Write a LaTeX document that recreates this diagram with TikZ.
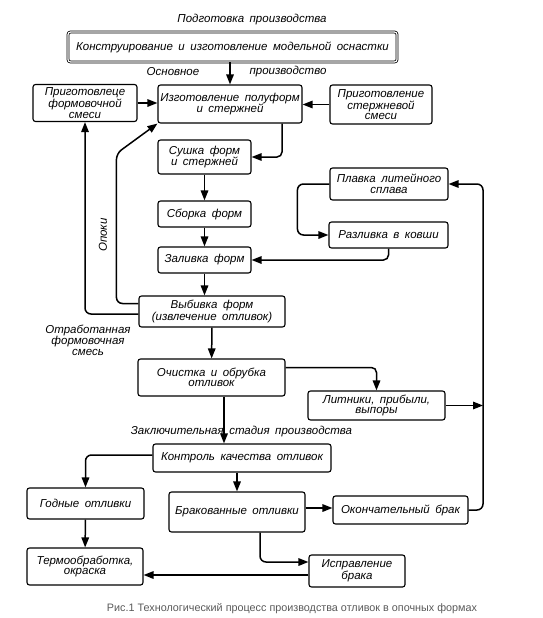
\documentclass[tikz,border=0pt]{standalone}
\usepackage{fontspec}
\setmainfont{Liberation Sans}
\newfontfamily\gost{Liberation Sans}
\newcommand\gostfont{\gost\itshape\fontsize{11.5}{10.5}\selectfont\spaceskip=5.5pt plus 1pt\relax}
\usetikzlibrary{arrows.meta}

\begin{document}
\begin{tikzpicture}[
    x=1pt, y=-1pt,
    box/.style={draw, line width=1.1pt, rounded corners=2.5pt, inner sep=1pt, align=center, font=\gostfont},
    arr/.style={draw, line width=1.5pt, -{Triangle[length=10pt,width=7.5pt]}},
    lbl/.style={font=\gostfont, align=center}
]
\useasboundingbox (0,0) rectangle (543,618);

% stage labels
\node[lbl] (prep) at (252,20) {Подготовка производства};
\node[lbl] (mainA) at (173,72) {Основное};
\node[lbl] (mainB) at (288,72) {производство};
\node[lbl] (final) at (241.5,432) {Заключительная стадия производства};

% boxes
\node[box, double, double distance=1.2pt, line width=0.8pt, minimum width=329pt, minimum height=30pt] (top) at (232.5,47) {Конструирование и изготовление модельной оснастки};
\node[box, minimum width=104pt, minimum height=37pt] (formsm) at (85,103) {Приготовлеце\\формовочной\\смеси};
\node[box, minimum width=144pt, minimum height=38pt] (make) at (230,104) {Изготовление полуформ\\и стержней};
\node[box, minimum width=102pt, minimum height=39pt] (coresm) at (381,104.5) {Приготовление\\стержневой\\смеси};
\node[box, minimum width=93pt, minimum height=34pt] (dry) at (204.5,157) {Сушка форм\\и стержней};
\node[box, minimum width=93pt, minimum height=26pt] (asm) at (204.5,214) {Сборка форм};
\node[box, minimum width=93pt, minimum height=26pt] (pour) at (204.5,260) {Заливка форм};
\node[box, minimum width=118pt, minimum height=32pt] (melt) at (389,184) {Плавка литейного\\сплава};
\node[box, minimum width=119pt, minimum height=26pt] (ladle) at (388.5,235) {Разливка в ковши};
\node[box, minimum width=146pt, minimum height=31pt] (knock) at (212,311.5) {Выбивка форм\\(извлечение отливок)};
\node[box, minimum width=147pt, minimum height=37pt] (clean) at (211.5,377.5) {Очистка и обрубка\\отливок};
\node[box, minimum width=137pt, minimum height=29pt] (gates) at (376.5,405.5) {Литники, прибыли,\\выпоры};
\node[box, minimum width=178pt, minimum height=28pt] (qc) at (242,458) {Контроль качества отливок};
\node[box, minimum width=117pt, minimum height=31pt] (good) at (85.5,503.5) {Годные отливки};
\node[box, minimum width=136pt, minimum height=40pt] (rej) at (237,512) {Бракованные отливки};
\node[box, minimum width=135pt, minimum height=28pt] (scrap) at (400.5,510) {Окончательный брак};
\node[box, minimum width=116pt, minimum height=37pt] (heat) at (85,566.5) {Термообработка,\\окраска};
\node[box, minimum width=96pt, minimum height=32pt] (fix) at (357,571) {Исправление\\брака};

% side labels
\node[lbl, rotate=90] (flask) at (103,235) {Опоки};
\node[lbl] (spent) at (88,340) {Отработанная\\формовочная\\смесь};

\coordinate (ret) at (483,300);

% main flow
\draw[arr] (top.south -| make.north) -- (make.north);
\draw[arr] (formsm.east) -- (formsm.east -| make.west);
\draw[arr] (coresm.west) -- (coresm.west -| make.east);
\draw[arr, rounded corners=5pt] ([xshift=52pt]make.south) |- (dry.east);
\draw[arr] (dry) -- (asm);
\draw[arr] (asm) -- (pour);
\draw[arr] (pour.south) -- (pour.south |- knock.north);
\draw[arr] (knock) -- (clean);
\draw[arr] ([xshift=12.5pt]clean.south) -- ([xshift=12.5pt]clean.south |- qc.north);

% metal
\draw[arr, rounded corners=6pt] (melt.west) -- ++(-32,0) |- (ladle.west);
\draw[arr, rounded corners=5pt] (ladle.south) |- (pour.east);

% return lines
\draw[arr, rounded corners=6pt] ([yshift=8pt]knock.west) -- ++(-22,0) -- ++(0,-150) -- (make.south west);
\draw[arr, rounded corners=6pt] ([yshift=-2.5pt]knock.west) -| (formsm.south);
\draw[arr, rounded corners=5pt] ([yshift=10pt]clean.east) -| (gates.north);
\draw[arr] (gates.east) -- (gates.east -| ret);
\draw[arr, rounded corners=6pt] (scrap.east) -| (ret |- melt.east) -- (melt.east);

% final stage
\draw[arr, rounded corners=6pt] ([yshift=3pt]qc.west) -| (good.north);
\draw[arr] (qc.south -| rej.north) -- (rej.north);
\draw[arr] ([yshift=4pt]rej.east) -- ([yshift=4pt]rej.east -| scrap.west);
\draw[arr] (good) -- (heat);
\draw[arr, rounded corners=6pt] ([xshift=23pt]rej.south) |- ([yshift=9pt]fix.west);
\draw[arr] ([yshift=-4pt]fix.west) -- ([yshift=-4pt]fix.west -| heat.east);

\node[font=\fontsize{10.8}{12}\selectfont, text=black!65] (cap) at (292,609) {Рис.1 Технологический процесс производства отливок в опочных формах};
\end{tikzpicture}
\end{document}
